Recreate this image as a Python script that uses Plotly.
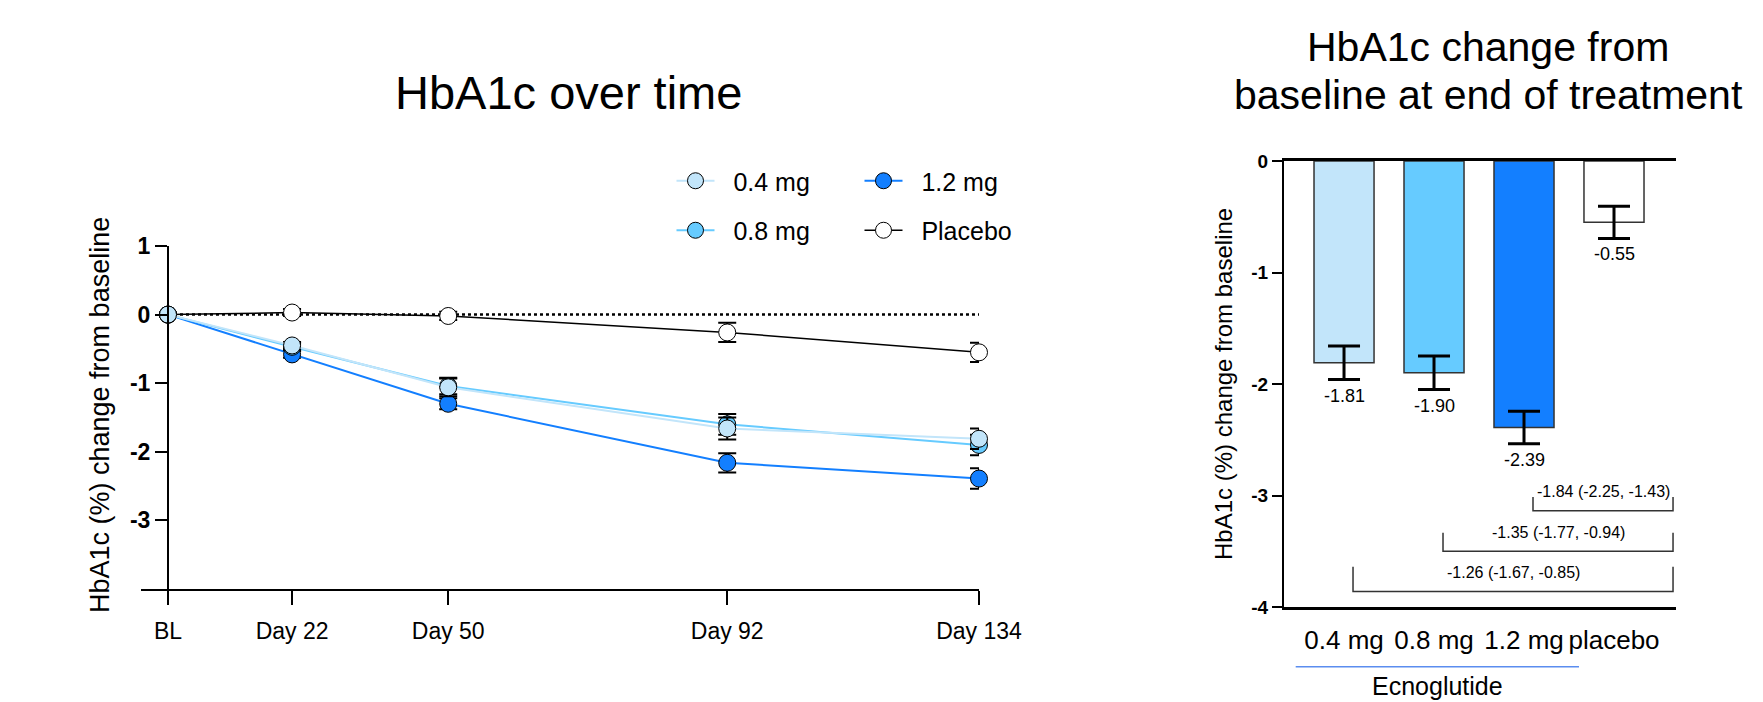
import plotly.graph_objects as go

FONT = "Liberation Sans, Arial, sans-serif"
W, H = 1763, 702

# ---------------- Left panel: HbA1c over time ----------------
visit_labels = ["BL", "Day 22", "Day 50", "Day 92", "Day 134"]
visit_x = [0, 20.5, 46.3, 92.4, 134]  # visit positions as placed on the time axis

mean_04 = [0, -0.45, -1.06, -1.66, -1.81]
mean_08 = [0, -0.47, -1.04, -1.60, -1.90]
mean_12 = [0, -0.58, -1.30, -2.16, -2.39]
mean_pl = [0, 0.03, -0.02, -0.26, -0.55]

se_04 = [0, 0.05, 0.13, 0.16, 0.15]
se_08 = [0, 0.05, 0.12, 0.15, 0.15]
se_12 = [0, 0.05, 0.08, 0.14, 0.15]
se_pl = [0, 0.05, 0.06, 0.14, 0.14]

# ---------------- Right panel: end of treatment ----------------
bar_cats = ["0.4 mg", "0.8 mg", "1.2 mg", "placebo"]
bar_vals = [-1.81, -1.90, -2.39, -0.55]
bar_err = [0.15, 0.15, 0.145, 0.145]

comp_from = [2, 1, 0]  # dose index compared with placebo (index 3)
comp_text = ["-1.84 (-2.25, -1.43)", "-1.35 (-1.77, -0.94)", "-1.26 (-1.67, -0.85)"]
comp_line = [-3.136, -3.50, -3.862]
comp_top = [-3.013, -3.335, -3.64]

C04, C08, C12, CPL = "#C2E5FA", "#66CBFF", "#137FFF", "#FFFFFF"

fig = go.Figure()

# draw order: placebo, 1.2, 0.8, 0.4 (0.4 on top)
series = [
    ("Placebo", mean_pl, se_pl, CPL, "black", 1.5, "legend2", 2),
    ("1.2 mg", mean_12, se_12, C12, C12, 2, "legend2", 1),
    ("0.8 mg", mean_08, se_08, C08, C08, 2, "legend", 2),
    ("0.4 mg", mean_04, se_04, C04, C04, 2, "legend", 1),
]
for name, ys, es, fill, lc, lw, lg, rank in series:
    fig.add_trace(go.Scatter(
        x=visit_x, y=ys, name="\u00a0\u00a0" + name, mode="lines+markers",
        line=dict(color=lc, width=lw),
        marker=dict(size=17, color=fill, line=dict(color="black", width=1)),
        error_y=dict(type="data", array=es, color="black", thickness=2, width=9),
        legend=lg, legendrank=rank, legendgroup=name,
        cliponaxis=False, xaxis="x", yaxis="y",
    ))

fig.add_trace(go.Bar(
    x=list(range(len(bar_cats))), y=bar_vals, width=0.667,
    marker=dict(color=[C04, C08, C12, CPL], line=dict(color="#333333", width=1.5)),
    error_y=dict(type="data", array=bar_err, color="black", thickness=3, width=16),
    showlegend=False, xaxis="x2", yaxis="y2",
))

shapes = []
annotations = []


def note(x, y, text, size, xref="paper", yref="paper", **kw):
    d = dict(x=x, y=y, xref=xref, yref=yref, text=text, showarrow=False,
             xanchor="center", yanchor="middle", font=dict(size=size, color="black"))
    d.update(kw)
    annotations.append(d)


# dotted zero line on the left panel
shapes.append(dict(type="line", xref="x", yref="y", x0=visit_x[0], x1=visit_x[-1], y0=0, y1=0,
                   line=dict(color="black", width=2.5, dash="dot"), layer="below"))

# brackets for comparisons
for i0, txt, yl, yt in zip(comp_from, comp_text, comp_line, comp_top):
    xa, xb = i0 + 0.1, 3 + 0.656
    shapes.append(dict(type="path", xref="x2", yref="y2",
                       path=f"M{xa},{yt} L{xa},{yl} L{xb},{yl} L{xb},{yt}",
                       line=dict(color="#333333", width=1.5)))
    note((xa + xb) / 2, yl, txt, 16, xref="x2", yref="y2", yshift=19)

# value labels under the bars
for i, (v, e) in enumerate(zip(bar_vals, bar_err)):
    note(i, v - e, f"{v:.2f}", 18, xref="x2", yref="y2", yshift=-16)

# Ecnoglutide grouping line + label
shapes.append(dict(type="line", xref="x2", yref="paper", x0=-0.537, x1=2.611,
                   y0=(H - 666.7) / H, y1=(H - 666.7) / H, line=dict(color="#5B8DEF", width=1.5)))
note(1.037, 0, "Ecnoglutide", 25, xref="x2", yanchor="bottom")

# titles
note(568 / W, (H - 93) / H, "HbA1c over time", 47)
note(1488 / W, (H - 47) / H, "HbA1c change from", 41)
note(1488 / W, (H - 95) / H, "baseline at end of treatment", 41)

# y axis titles
note(100 / W, (H - 415) / H, "HbA1c (%) change from baseline", 27, textangle=-90)
note(1223 / W, (H - 384) / H, "HbA1c (%) change from baseline", 24, textangle=-90)

left_ticks = [1, 0, -1, -2, -3]
right_ticks = [0, -1, -2, -3, -4]

fig.update_layout(
    width=W, height=H, margin=dict(l=0, r=0, t=0, b=0, autoexpand=False),
    paper_bgcolor="white", plot_bgcolor="white",
    font=dict(family=FONT, color="black"),
    barmode="overlay",
    xaxis=dict(domain=[141 / W, 979 / W], range=[-4.46, 134], anchor="y",
               tickvals=visit_x, ticktext=visit_labels, ticks="outside", ticklen=14, tickwidth=2,
               tickcolor="black", showline=True, linecolor="black", linewidth=2,
               showgrid=False, zeroline=False, tickfont=dict(size=23), ticklabelstandoff=6),
    yaxis=dict(domain=[(H - 589) / H, (H - 246) / H], range=[-4, 1], anchor="free", position=168 / W,
               tickvals=left_ticks, ticktext=[f"<b>{t}</b>" for t in left_ticks],
               ticks="outside", ticklen=12, tickwidth=2, tickcolor="black",
               showline=True, linecolor="black", linewidth=2, showgrid=False, zeroline=False,
               tickfont=dict(size=23)),
    xaxis2=dict(domain=[1284 / W, 1676 / W], range=[-0.667, 3.689], anchor="y2",
                tickvals=list(range(len(bar_cats))), ticktext=bar_cats, ticks="",
                showline=True, mirror=True, linecolor="black", linewidth=2.5,
                showgrid=False, zeroline=False, tickfont=dict(size=26), ticklabelstandoff=8),
    yaxis2=dict(domain=[(H - 607) / H, (H - 161) / H], range=[-4, 0], anchor="x2",
                tickvals=right_ticks, ticktext=[f"<b>{t}</b>" for t in right_ticks],
                ticks="outside", ticklen=10, tickwidth=2, tickcolor="black",
                showline=True, linecolor="black", linewidth=2, showgrid=False, zeroline=False,
                tickfont=dict(size=19)),
    legend=dict(x=671.5 / W, y=(H - 158) / H, xanchor="left", yanchor="top",
                font=dict(size=25), bgcolor="rgba(0,0,0,0)", traceorder="grouped",
                tracegroupgap=14, itemwidth=38),
    legend2=dict(x=859.5 / W, y=(H - 158) / H, xanchor="left", yanchor="top",
                 font=dict(size=25), bgcolor="rgba(0,0,0,0)", traceorder="grouped",
                 tracegroupgap=14, itemwidth=38),
    shapes=shapes, annotations=annotations,
)

fig.write_html(
    "out.html",
    config={"displayModeBar": False},
    post_script="document.body.style.margin='0';document.body.style.overflow='hidden';",
)
